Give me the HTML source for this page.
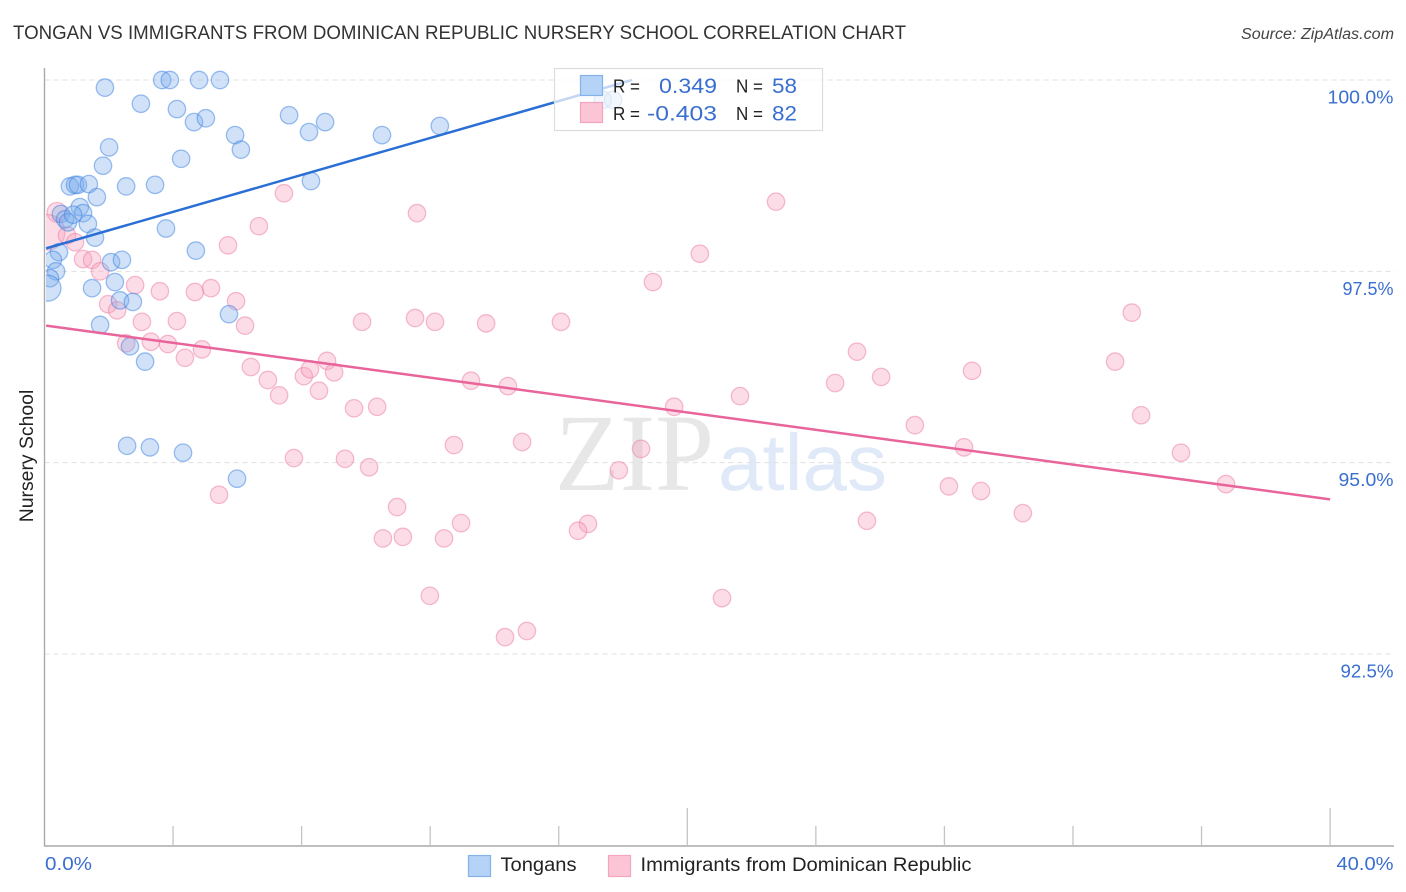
<!DOCTYPE html>
<html lang="en">
<head>
<meta charset="utf-8">
<title>Tongan vs Immigrants from Dominican Republic Nursery School Correlation Chart</title>
<style>
html,body{margin:0;padding:0;background:#fff;}
svg{display:block;font-family:"Liberation Sans",sans-serif;}
</style>
</head>
<body>
<svg id="chart" width="1406" height="892" viewBox="0 0 1406 892" xmlns="http://www.w3.org/2000/svg">
  <defs>
    <clipPath id="plot-clip"><rect x="46" y="60" width="1350" height="786"></rect></clipPath>
  </defs>
  <text x="13" y="39" font-size="19" fill="#333" textLength="893" lengthAdjust="spacingAndGlyphs">TONGAN VS IMMIGRANTS FROM DOMINICAN REPUBLIC NURSERY SCHOOL CORRELATION CHART</text>
  <text x="1394" y="39" font-size="15.5" font-style="italic" fill="#444" text-anchor="end" textLength="153" lengthAdjust="spacingAndGlyphs">Source: ZipAtlas.com</text>

  <g>
    <text x="555" y="490" font-family="'Liberation Serif',serif" font-size="110" fill="#e7e7e7" textLength="159" lengthAdjust="spacingAndGlyphs">ZIP</text>
    <text x="718" y="490" font-size="80" fill="#dfe9f8" textLength="169" lengthAdjust="spacingAndGlyphs">atlas</text>
  </g>

  <g id="grid"></g>
  <g id="axes"></g>
  <g id="points" clip-path="url(#plot-clip)"></g>
  <g id="trends"></g>

  <text transform="translate(33,456) rotate(-90)" font-size="19.4" fill="#222" text-anchor="middle">Nursery School</text>

  <g>
    <rect x="554.5" y="68.5" width="268" height="62" fill="#fff" fill-opacity="0.72" stroke="#dcdcdc" stroke-width="1.2"></rect>
    <rect x="580.5" y="75.5" width="22" height="20" fill="#b5d2f7" stroke="#86b2ea" stroke-width="1.2"></rect>
    <rect x="580.5" y="102.5" width="22" height="20" fill="#fcc5d6" stroke="#f3a5bf" stroke-width="1.2"></rect>
    <text x="613" y="92.5" font-size="18.5" fill="#222" textLength="27" lengthAdjust="spacingAndGlyphs">R =</text>
    <text x="659" y="93" font-size="21.5" fill="#3a6fd0" textLength="58" lengthAdjust="spacingAndGlyphs">0.349</text>
    <text x="736" y="92.5" font-size="18.5" fill="#222" textLength="27" lengthAdjust="spacingAndGlyphs">N =</text>
    <text x="772" y="93" font-size="21.5" fill="#3a6fd0" textLength="25" lengthAdjust="spacingAndGlyphs">58</text>
    <text x="613" y="120" font-size="18.5" fill="#222" textLength="27" lengthAdjust="spacingAndGlyphs">R =</text>
    <text x="647" y="120.5" font-size="21.5" fill="#3a6fd0" textLength="70" lengthAdjust="spacingAndGlyphs">-0.403</text>
    <text x="736" y="120" font-size="18.5" fill="#222" textLength="27" lengthAdjust="spacingAndGlyphs">N =</text>
    <text x="772" y="120.5" font-size="21.5" fill="#3a6fd0" textLength="25" lengthAdjust="spacingAndGlyphs">82</text>
  </g>

  <g>
    <rect x="468.5" y="855.5" width="22" height="21" fill="#b5d2f7" stroke="#86b2ea" stroke-width="1.2"></rect>
    <text x="500.5" y="871" font-size="19.5" fill="#222" textLength="76" lengthAdjust="spacingAndGlyphs">Tongans</text>
    <rect x="608.5" y="855.5" width="22" height="21" fill="#fcc5d6" stroke="#f3a5bf" stroke-width="1.2"></rect>
    <text x="640.5" y="871" font-size="19.5" fill="#222" textLength="331" lengthAdjust="spacingAndGlyphs">Immigrants from Dominican Republic</text>
  </g>

<script>
const tonganX = [1.88,3.00,3.66,3.90,4.81,5.46,4.12,4.65,5.02,7.61,5.93,6.11,8.73,8.23,10.50,12.30,2.01,1.82,4.25,2.54,3.44,0.79,0.95,1.04,1.38,1.63,8.29,1.10,1.20,0.51,0.64,0.73,0.89,1.35,1.57,3.78,4.71,0.45,0.26,2.07,2.41,0.36,0.17,0.11,2.19,1.48,2.35,2.75,5.74,1.73,2.66,3.13,2.57,3.28,4.31,5.99,17.37,17.69];
const tonganY = [99.90,99.69,100,100,100,100,99.62,99.45,99.50,99.54,99.28,99.09,99.45,99.32,99.28,99.40,99.12,98.88,98.97,98.61,98.63,98.61,98.63,98.63,98.64,98.47,98.68,98.34,98.26,98.25,98.18,98.14,98.24,98.12,97.94,98.06,97.77,97.75,97.65,97.62,97.65,97.50,97.41,97.28,97.36,97.28,97.12,97.10,96.94,96.80,96.52,96.32,95.22,95.20,95.13,94.79,99.74,99.74];
const tonganWeight = [1,1,1,1,1,1,1,1,1,1,1,1,1,1,1,1,1,1,1,1,1,1,1,1,1,1,1,1,1,1,1,1,1,1,1,1,1,1,1,1,1,1,1,2.2,1,1,1,1,1,1,1,1,1,1,1,1,1,1];

const immigrantX = [0.39,0.08,0.70,0.95,1.20,1.48,1.73,2.82,3.59,4.68,5.18,5.96,1.98,2.26,3.03,4.12,6.24,2.54,3.31,3.84,4.90,4.37,7.45,6.67,5.71,11.59,22.76,20.39,18.93,33.83,9.88,11.53,12.15,13.74,16.07,25.28,33.31,6.42,6.95,7.30,8.07,8.26,8.79,9.01,8.54,9.63,10.35,13.27,14.42,24.60,26.03,28.86,21.64,19.59,34.12,27.08,12.74,14.86,18.56,28.61,35.36,7.76,9.35,10.10,17.87,5.43,28.14,29.14,36.76,10.97,30.44,12.96,16.91,16.60,25.59,10.53,11.15,12.43,11.99,21.08,14.33,15.01];
const immigrantY = [98.27,98.01,97.97,97.88,97.66,97.65,97.50,97.32,97.24,97.23,97.28,97.11,97.07,96.99,96.84,96.85,96.79,96.56,96.58,96.55,96.48,96.37,98.52,98.09,97.84,98.26,98.41,97.73,97.36,96.96,96.84,96.89,96.84,96.82,96.84,96.45,96.32,96.25,96.08,95.88,96.13,96.22,96.33,96.18,95.94,95.71,95.73,96.07,96.00,96.04,96.12,96.20,95.87,95.73,95.62,95.49,95.23,95.27,95.18,95.20,95.13,95.06,95.05,94.94,94.90,94.58,94.69,94.63,94.72,94.42,94.34,94.21,94.20,94.11,94.24,94.01,94.03,94.01,93.26,93.23,92.72,92.80];
const immigrantWeight = [1.3,4.2,1,1,1,1,1,1,1,1,1,1,1,1,1,1,1,1,1,1,1,1,1,1,1,1,1,1,1,1,1,1,1,1,1,1,1,1,1,1,1,1,1,1,1,1,1,1,1,1,1,1,1,1,1,1,1,1,1,1,1,1,1,1,1,1,1,1,1,1,1,1,1,1,1,1,1,1,1,1,1,1];

const tonganTrendX = [0.05,18.28];
const tonganTrendY = [97.80,100];
const immigrantTrendX = [0.05,40];
const immigrantTrendY = [96.79,94.52];

const yTickValues = [100,97.5,95,92.5];
const yTickLabels = ["100.0%","97.5%","95.0%","92.5%"];
const xTickValues = [0,4,8,12,16,20,24,28,32,36,40];
const xMajorTicks = [20,40];
const xEndValues = [0,40];
const xEndLabels = ["0.0%","40.0%"];

const NS = "http://www.w3.org/2000/svg";
const xScale = v => 44.5 + v * 32.14;
const yScale = v => 80 + (100 - v) * 76.53;
const BASE_R = 8.7;
const rScale = w => BASE_R * Math.sqrt(w);
const yLabelWidth = s => s.length === 6 ? 66 : (s.startsWith("97") ? 51 : (s.startsWith("92") ? 53 : 55));
const xLabelWidth = s => s.length === 4 ? 47 : 57;

function make(tag, attrs, parent, text) {
  const el = document.createElementNS(NS, tag);
  for (const k in attrs) el.setAttribute(k, attrs[k]);
  if (text !== undefined) el.textContent = text;
  parent.appendChild(el);
  return el;
}

const gridG = document.getElementById("grid");
const axesG = document.getElementById("axes");
const pointsG = document.getElementById("points");
const trendsG = document.getElementById("trends");

yTickValues.forEach((v, i) => {
  const y = yScale(v);
  const line = make("line", {x1: 44.5, x2: 1395, y1: y, y2: y, stroke: "#e0e0e0", "stroke-width": 1, "stroke-dasharray": "5 4"}, gridG);
  
  
  const w = yLabelWidth(yTickLabels[i]);
  const label = make("text", {x: 1393.5 - w, y: y + 23.5, "font-size": 18.6, fill: "#3a6fd0", textLength: w, lengthAdjust: "spacingAndGlyphs"}, axesG, yTickLabels[i]);
  
  
});

const yAxis = make("line", {x1: 44.5, x2: 44.5, y1: 68, y2: 846.5, stroke: "#aaa", "stroke-width": 1.4}, axesG);


const xAxis = make("line", {x1: 44, x2: 1394, y1: 846, y2: 846, stroke: "#aaa", "stroke-width": 1.4}, axesG);



xTickValues.slice(1).forEach(v => {
  const x = xScale(v);
  const top = xMajorTicks.includes(v) ? 808 : 826;
  const tick = make("line", {x1: x, x2: x, y1: top, y2: 846, stroke: "#c4c4c4", "stroke-width": 1.3}, axesG);
  
  
});

xEndValues.forEach((v, i) => {
  const w = xLabelWidth(xEndLabels[i]);
  const left = i === 0 ? xScale(v) + 0.5 : 1393.5 - w;
  const label = make("text", {x: left, y: 870, "font-size": 18.6, fill: "#3a6fd0", textLength: w, lengthAdjust: "spacingAndGlyphs"}, axesG, xEndLabels[i]);
  
  
});

immigrantX.forEach((v, i) => {
  const c = make("circle", {cx: xScale(v), cy: yScale(immigrantY[i]), r: rScale(immigrantWeight[i]), fill: "rgba(246,160,188,0.36)", stroke: "rgba(236,128,165,0.52)", "stroke-width": 1.3}, pointsG);
  
  
});

tonganX.forEach((v, i) => {
  const c = make("circle", {cx: xScale(v), cy: yScale(tonganY[i]), r: rScale(tonganWeight[i]), fill: "rgba(122,172,236,0.35)", stroke: "rgba(60,130,225,0.5)", "stroke-width": 1.3}, pointsG);
  
  
});

const tonganLine = make("line", {x1: xScale(tonganTrendX[0]), y1: yScale(tonganTrendY[0]), x2: xScale(tonganTrendX[1]), y2: yScale(tonganTrendY[1]), stroke: "#2a6fd6", "stroke-width": 2.5}, trendsG);


const immigrantLine = make("line", {x1: xScale(immigrantTrendX[0]), y1: yScale(immigrantTrendY[0]), x2: xScale(immigrantTrendX[1]), y2: yScale(immigrantTrendY[1]), stroke: "#e8649a", "stroke-width": 2.5}, trendsG);


</script>
</svg>
</body>
</html>
